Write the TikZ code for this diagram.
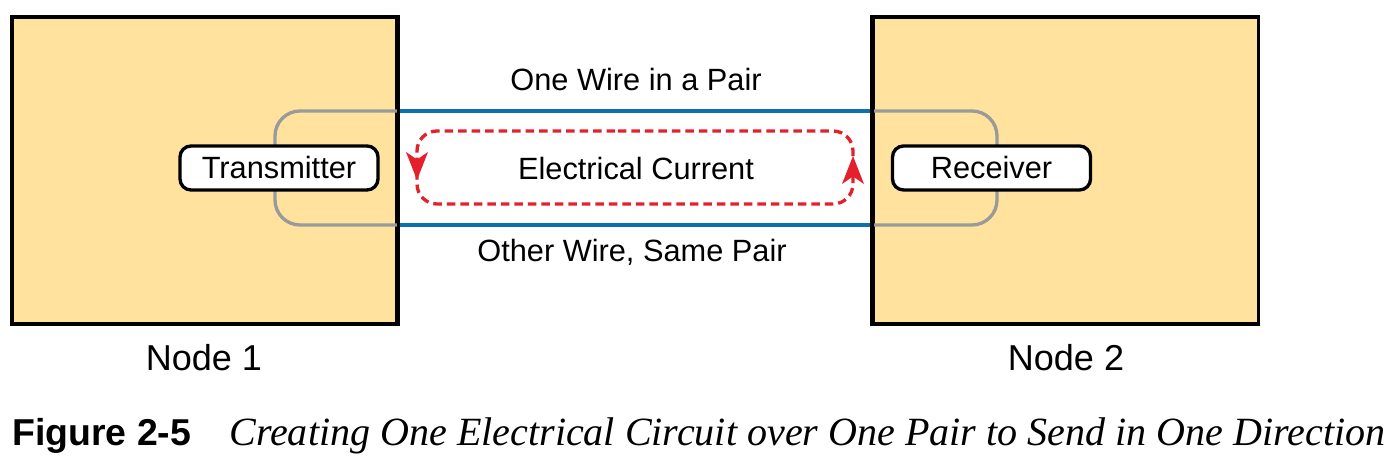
\documentclass[tikz,border=0pt]{standalone}
\usepackage{fontspec}
\setmainfont{Liberation Sans}
\newfontfamily\capfont{Liberation Serif}
\usetikzlibrary{arrows.meta}
\definecolor{boxfill}{HTML}{FEE29E}
\definecolor{wireblue}{HTML}{0A70B0}
\definecolor{loopgray}{HTML}{9A9A9A}
\definecolor{currentred}{HTML}{E3202B}
\tikzset{
  nodebox/.style={rectangle, draw=black, fill=boxfill, line width=1.9pt, minimum width=7.7cm, minimum height=6.14cm, inner sep=0pt},
  port/.style={rectangle, rounded corners=0.22cm, draw=black, fill=white, line width=1.9pt, minimum width=3.96cm, minimum height=0.88cm, inner sep=0pt, font=\fontsize{17.5}{20}\selectfont},
  wire/.style={line width=1.9pt, color=wireblue},
  loop/.style={line width=1.9pt, color=loopgray, rounded corners=0.5cm},
  current/.style={line width=1.9pt, color=currentred, dash pattern=on 0.17cm off 0.1cm, rounded corners=0.4cm},
  head/.style={fill=currentred},
  label/.style={font=\fontsize{17.5}{20}\selectfont}
}

\begin{document}
\begin{tikzpicture}
\useasboundingbox (0,0) rectangle (27.88,9.22);
\node[nodebox] (n1box) at (4.09,5.81) {};
\node[nodebox] (n2box) at (21.32,5.81) {};
% wire pair
\coordinate (topwire) at (0,7.0);
\coordinate (botwire) at (0,4.72);
\draw[loop] (n1box.east |- topwire) -- (5.5,7.0) -- (5.5,4.72) -- (n1box.east |- botwire);
\draw[loop] (n2box.west |- topwire) -- (19.94,7.0) -- (19.94,4.72) -- (n2box.west |- botwire);
\draw[wire] (n1box.east |- topwire) -- (n2box.west |- topwire);
\draw[wire] (n1box.east |- botwire) -- (n2box.west |- botwire);
\draw[line width=1.9pt] (n1box.north east) -- (n1box.south east);
\draw[line width=1.9pt] (n2box.north west) -- (n2box.south west);
\node[port] (tx) at (5.58,5.86) {Transmitter};
\node[port] (rx) at (19.83,5.86) {Receiver};
% current loop
\coordinate (tipl) at (8.34,5.62);
\coordinate (tipr) at (17.06,6.1);
\draw[current] (12.7,6.6) -- (8.34,6.6) -- (8.34,5.14) -- (17.06,5.14) -- (17.06,6.6) -- cycle;
\fill[head] (tipl) -- ++(0.22,0.56) -- ++(-0.22,-0.15) -- ++(-0.22,0.15) -- cycle;
\fill[head] (tipr) -- ++(0.22,-0.56) -- ++(-0.22,0.15) -- ++(-0.22,-0.15) -- cycle;
\node[label] (toplbl) at (12.72,7.62) {One Wire in a Pair};
\node[label] (curlbl) at (12.72,5.84) {Electrical Current};
\node[label] (botlbl) at (12.64,4.18) {Other Wire, Same Pair};
\node[font=\fontsize{20.5}{24}\selectfont] (n1lbl) at (4.08,2.06) {Node 1};
\node[font=\fontsize{20.5}{24}\selectfont] (n2lbl) at (21.32,2.06) {Node 2};
% caption
\node[anchor=base west, inner sep=0pt, font=\fontsize{21.3}{26}\selectfont\bfseries] (fignum) at (0.24,0.3) {Figure 2-5};
\node[anchor=base west, inner sep=0pt, font=\fontsize{22.8}{26}\selectfont\capfont\itshape] (figtxt) at (4.58,0.3) {Creating One Electrical Circuit over One Pair to Send in One Direction};
\end{tikzpicture}
\end{document}
